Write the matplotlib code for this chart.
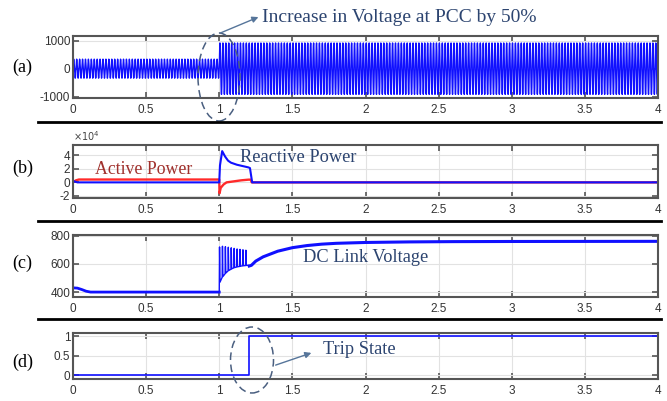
import numpy as np
import matplotlib
matplotlib.use("Agg")
import matplotlib.pyplot as plt
from matplotlib.patches import Ellipse, FancyArrowPatch

# ---------------- data ----------------
x_ticks = [0, 0.5, 1, 1.5, 2, 2.5, 3, 3.5, 4]
x_tick_labels = ["0", "0.5", "1", "1.5", "2", "2.5", "3", "3.5", "4"]

# (a) PCC voltage: 50 Hz carrier, amplitude before / after the step at t = 1 s
va_freq_hz = 50
va_step_t = 1.0
va_amp_before = 340
va_amp_after = 920

# (b) active / reactive power (x 1e4)
p_t = [0, 0.02, 0.04, 1.0, 1.002, 1.01, 1.03, 1.05, 1.1, 1.15, 1.2, 1.215, 1.222, 4.0]
p_v = [0, 0.3, 0.42, 0.42, -1.6, -0.8, -0.3, 0.0, 0.15, 0.3, 0.4, 0.4, 0.0, 0.0]
q_t = [0, 0.01, 0.03, 1.0, 1.005, 1.02, 1.04, 1.06, 1.08, 1.12, 1.16, 1.2, 1.21, 1.225, 4.0]
q_v = [0, 0.15, 0, 0, 2.5, 4.6, 3.8, 3.2, 2.9, 2.6, 2.4, 2.2, 2.1, 0, 0]

# (c) DC link voltage: pre-disturbance part
dc_pre_t = [0, 0.03, 0.06, 0.09, 0.12, 0.2, 1.0]
dc_pre_v = [430, 428, 418, 406, 400, 400, 400]
# spiky transient between 1.0 s and 1.2 s
dc_sp_t = [1.0, 1.002, 1.005, 1.02, 1.022, 1.025, 1.04, 1.042, 1.045,
           1.06, 1.062, 1.065, 1.08, 1.082, 1.085, 1.10, 1.102, 1.105,
           1.12, 1.122, 1.125, 1.14, 1.142, 1.145, 1.16, 1.162, 1.165,
           1.18, 1.182, 1.185, 1.20, 1.205]
dc_sp_v = [400, 720, 470, 505, 725, 510, 530, 722, 535,
           550, 718, 553, 562, 714, 565, 572, 710, 574,
           578, 706, 580, 582, 703, 584, 586, 700, 587,
           588, 697, 589, 590, 585]
# recovery after the trip
dc_post_t = [1.205, 1.22, 1.25, 1.3, 1.4, 1.5, 1.6, 1.7, 1.8, 2.0, 2.3, 2.6, 3.0, 4.0]
dc_post_v = [585, 590, 620, 650, 690, 715, 730, 740, 746, 752, 756, 758, 759, 760]

# (d) trip state
trip_t = [0, 1.2, 1.2, 4.0]
trip_v = [0, 0, 1, 1]

# ---------------- figure ----------------
W, H = 667, 401
fig = plt.figure(figsize=(W / 100, H / 100), dpi=100)

def fx(x):
    return x / W

def fy(y):
    return 1 - y / H

def add_ax(top, bottom):
    return fig.add_axes([fx(73), fy(bottom), fx(658) - fx(73), fy(top) - fy(bottom)])

ax_a = add_ax(36, 98)
ax_b = add_ax(145, 198)
ax_c = add_ax(235, 297)
ax_d = add_ax(333, 379)

blue = "#1010ff"
edge = "#555555"
navy = "#2c4470"
sans = "Liberation Sans"

for ax in (ax_a, ax_b, ax_c, ax_d):
    ax.set_xlim(0, 4)
    ax.set_xticks(x_ticks)
    ax.set_xticklabels(x_tick_labels, family=sans)
    ax.grid(True, color="#e2e2e2", linewidth=0.8)
    ax.set_axisbelow(True)
    ax.tick_params(direction="in", top=True, right=True, length=4, width=1.2,
                   color=edge, labelsize=8.5, labelcolor="#333333")
    ax.tick_params(axis="x", pad=4.5)
    ax.tick_params(axis="y", pad=2)
    for s in ax.spines.values():
        s.set_color(edge)
        s.set_linewidth(1.5)

# (a)
t_a = np.linspace(0, 4, 40001)
amp = np.where(t_a < va_step_t, va_amp_before, va_amp_after)
ax_a.plot(t_a, amp * np.sin(2 * np.pi * va_freq_hz * t_a), color=blue, linewidth=1.0)
ax_a.set_ylim(-1050, 1170)
ax_a.set_yticks([-1000, 0, 1000])
ax_a.set_yticklabels(["-1000", "0", "1000"], family=sans)

# (b)
ax_b.plot(p_t, p_v, color="#ff2a2a", linewidth=1.7)
ax_b.plot(q_t, q_v, color=blue, linewidth=1.5)
ax_b.set_ylim(-2.3, 5.5)
ax_b.set_yticks([-2, 0, 2, 4])
ax_b.set_yticklabels(["-2", "0", "2", "4"], family=sans)
ax_b.text(0.0, 1.03, r"$\times10^4$", transform=ax_b.transAxes, fontsize=7,
          color="#444444", ha="left", va="bottom")

# (c)
ax_c.plot(dc_pre_t, dc_pre_v, color=blue, linewidth=2.0)
ax_c.plot(dc_sp_t, dc_sp_v, color=blue, linewidth=1.0)
ax_c.plot(dc_post_t, dc_post_v, color=blue, linewidth=2.2)
ax_c.set_ylim(365, 805)
ax_c.set_yticks([400, 600, 800])
ax_c.set_yticklabels(["400", "600", "800"], family=sans)

# (d)
ax_d.plot(trip_t, trip_v, color=blue, linewidth=1.2)
ax_d.set_ylim(-0.1, 1.09)
ax_d.set_yticks([0, 0.5, 1])
ax_d.set_yticklabels(["0", "0.5", "1"], family=sans)

# separators
for ysep in (122, 221, 319):
    fig.add_artist(plt.Line2D([fx(38), fx(661)], [fy(ysep), fy(ysep)],
                              color="black", linewidth=2.0,
                              transform=fig.transFigure))

serif = "Liberation Serif"
for lab, ylab in (("(a)", 67), ("(b)", 168), ("(c)", 263), ("(d)", 362)):
    fig.text(fx(12), fy(ylab), lab, family=serif, fontsize=13, color="black",
             ha="left", va="center")

fig.text(fx(262), fy(17), "Increase in Voltage at PCC by 50%", family=serif,
         fontsize=14, color=navy, ha="left", va="center")
fig.text(fx(95), fy(170), "Active Power", family=serif, fontsize=12.8,
         color="#a0302c", ha="left", va="center")
fig.text(fx(240), fy(158), "Reactive Power", family=serif, fontsize=13.2,
         color=navy, ha="left", va="center")
fig.text(fx(303), fy(257), "DC Link Voltage", family=serif, fontsize=13.2,
         color=navy, ha="left", va="center")
fig.text(fx(323), fy(350), "Trip State", family=serif, fontsize=13.2,
         color=navy, ha="left", va="center")

ell_col = "#4a5f80"
fig.add_artist(Ellipse((fx(219), fy(77)), fx(42), 88 / H, fill=False,
                       linestyle=(0, (5, 3)), edgecolor=ell_col, linewidth=1.1,
                       transform=fig.transFigure))
fig.add_artist(Ellipse((fx(252), fy(360)), fx(43), 66 / H, fill=False,
                       linestyle=(0, (5, 3)), edgecolor=ell_col, linewidth=1.1,
                       transform=fig.transFigure))

arrow_col = "#56759a"
fig.add_artist(FancyArrowPatch((fx(218), fy(34)), (fx(261), fy(16)),
                               transform=fig.transFigure, arrowstyle="-|>",
                               mutation_scale=9, color=arrow_col, linewidth=1.0))
fig.add_artist(FancyArrowPatch((fx(273), fy(366)), (fx(314), fy(352)),
                               transform=fig.transFigure, arrowstyle="-|>",
                               mutation_scale=9, color=arrow_col, linewidth=1.0))

fig.savefig("out.png", dpi=100)
